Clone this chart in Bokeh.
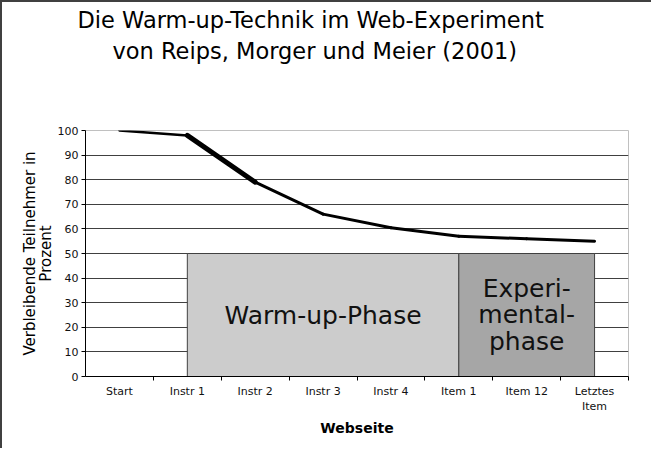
from bokeh.plotting import figure
from bokeh.layouts import column
from bokeh.models import Range1d, FixedTicker, Title
from bokeh.core.properties import value
from bokeh.embed import file_html
from bokeh.resources import INLINE

# ---- data ----
title_lines = ["Die Warm-up-Technik im Web-Experiment", "von Reips, Morger und Meier (2001)"]
categories = ["Start", "Instr 1", "Instr 2", "Instr 3", "Instr 4", "Item 1", "Item 12", "Letztes Item"]
tick_labels = ["Start", "Instr 1", "Instr 2", "Instr 3", "Instr 4", "Item 1", "Item 12", "Letztes\nItem"]
remaining = [100, 98, 79, 66, 60.5, 57, 56, 55]
phase_names = ["Warm-up-Phase", "Experi-\nmental-\nphase"]
phase_from = ["Instr 1", "Item 1"]
phase_to = ["Item 1", "Letztes Item"]
phase_level = [50, 50]
y_ticks = [0, 10, 20, 30, 40, 50, 60, 70, 80, 90, 100]
x_label = "Webseite"
y_label = "Verbleibende Teilnehmer in\nProzent"

FONT = "DejaVu Sans"
W, H = 649, 446
ML, MR, MT, MB = 83, 23, 128, 72

n = len(categories)
centers = [i + 0.5 for i in range(n)]
bounds = [i for i in range(1, n + 1)]

p = figure(width=W, height=H, output_backend="svg", toolbar_location=None, title=None,
           x_range=Range1d(0, n), y_range=Range1d(0, 100),
           min_border_left=ML, min_border_right=MR, min_border_top=MT, min_border_bottom=MB,
           background_fill_color="white", border_fill_color="white")
p.outline_line_color = "#c0c0c0"
p.xgrid.visible = False
p.ygrid.ticker = FixedTicker(ticks=y_ticks)
p.ygrid.grid_line_color = "#404040"
p.ygrid.grid_line_width = 1

# phases
idx = {c: i for i, c in enumerate(categories)}
lefts = [centers[idx[a]] for a in phase_from]
rights = [centers[idx[b]] for b in phase_to]
p.quad(left=lefts, right=rights, bottom=[0] * len(phase_level), top=phase_level,
       fill_color=["#cccccc", "#a6a6a6"], line_color="#404040", line_width=1)
mids = [(a + b) / 2 for a, b in zip(lefts, rights)]
p.text(x=mids, y=[v / 2 for v in phase_level], text=phase_names,
       text_align="center", text_baseline="middle", text_font=value(FONT),
       text_font_size="25px", text_color="#111111", text_line_height=0.9)

# line
xs = [[centers[i], centers[i + 1]] for i in range(n - 1)]
ys = [[remaining[i], remaining[i + 1]] for i in range(n - 1)]
widths = [2.5, 5, 3, 3, 3, 3, 3]
p.multi_line(xs=xs, ys=ys, line_color="black", line_width=widths,
             line_cap="round", line_join="round")

# axes
xa = p.xaxis[0]
xa.ticker = FixedTicker(ticks=centers, minor_ticks=bounds)
xa.major_label_overrides = {c: t for c, t in zip(centers, tick_labels)}
xa.major_tick_line_color = None
xa.major_tick_out = 0
xa.major_tick_in = 0
xa.minor_tick_line_color = "black"
xa.minor_tick_out = 4
xa.minor_tick_in = 0
xa.axis_line_color = "black"
xa.major_label_text_font = FONT
xa.major_label_text_font_size = "11px"
xa.major_label_text_color = "#111111"
xa.major_label_standoff = 4
xa.axis_label = x_label
xa.axis_label_text_font = FONT
xa.axis_label_text_font_size = "14px"
xa.axis_label_text_font_style = "bold"
xa.axis_label_text_color = "black"
xa.axis_label_standoff = 4

ya = p.yaxis[0]
ya.ticker = FixedTicker(ticks=y_ticks)
ya.major_tick_out = 4
ya.major_tick_in = 0
ya.major_tick_line_color = "black"
ya.minor_tick_line_color = None
ya.axis_line_color = "black"
ya.major_label_text_font = FONT
ya.major_label_text_font_size = "11px"
ya.major_label_text_color = "#111111"
ya.major_label_standoff = 3
ya.axis_label = y_label
ya.axis_label_text_font = FONT
ya.axis_label_text_font_size = "15px"
ya.axis_label_text_font_style = "normal"
ya.axis_label_text_line_height = 0.88
ya.axis_label_text_color = "black"
ya.axis_label_standoff = 0

# spacer between title and plot frame (closest to the frame)
p.add_layout(Title(text=" ", text_font=FONT, text_font_size="10px", standoff=54), "above")
# two-line title (second line first: it sits nearer the frame)
offsets = [-8, 27]
standoffs = [5, 0]
for line, off, so in reversed(list(zip(title_lines, offsets, standoffs))):
    p.add_layout(Title(text=line, align="left", offset=off, standoff=so,
                       text_font=FONT, text_font_size="22.5px",
                       text_font_style="normal", text_color="black"), "above")

layout = column(p, styles={"border-top": "2px solid #404040", "border-left": "2px solid #404040"})

open("out.html", "w").write(file_html(layout, INLINE))
